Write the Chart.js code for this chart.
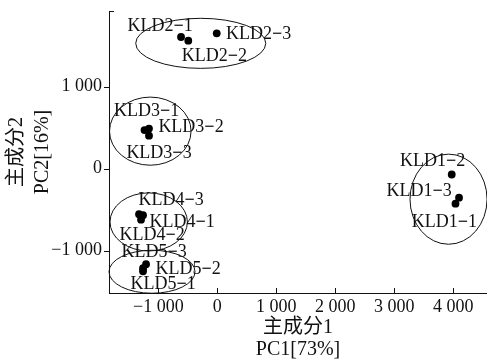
<!DOCTYPE html>
<html>
<head>
<meta charset="utf-8">
<script src="https://cdn.jsdelivr.net/npm/chart.js@4.4.1/dist/chart.umd.min.js"></script>
<style>
  html, body { margin: 0; padding: 0; background: #fff; }
  #pca { display: block; }
</style>
</head>
<body>
<canvas id="pca" width="487" height="363"></canvas>
<script>
'use strict';

// sample scores on the first two components
var sampleNames = ['KLD1−1', 'KLD1−2', 'KLD1−3',
                   'KLD2−1', 'KLD2−2', 'KLD2−3',
                   'KLD3−1', 'KLD3−2', 'KLD3−3',
                   'KLD4−1', 'KLD4−2', 'KLD4−3',
                   'KLD5−1', 'KLD5−2', 'KLD5−3'];
var pc1 = [4037, 3973, 4097,
           -615, -492, -10,
           -1234, -1158, -1158,
           -1259, -1293, -1327,
           -1259, -1259, -1208];
var pc2 = [-427, -71, -354,
           1604, 1559, 1649,
           470, 488, 402,
           -567, -622, -555,
           -1250, -1213, -1165];

// group ellipses (centre and half axes, in score units)
var groupNames = ['KLD1', 'KLD2', 'KLD3', 'KLD4', 'KLD5'];
var groupCx = [3919, -281, -1136, -1163, -1107];
var groupCy = [-372, 1527, 457, -649, -1256];
var groupRx = [653, 1102, 691, 656, 729];
var groupRy = [549, 305, 415, 354, 262];

var xTickValues = [-1000, 0, 1000, 2000, 3000, 4000];
var yTickValues = [-1000, 0, 1000];

// where each name sits relative to its dot (px)
var labelShift = [[-11, 19], [-19, -13], [-40, -6],
                  [-21, -11], [26, 16], [42, 1],
                  [2, -19], [42, -1], [10, 18],
                  [39, 7], [11, 16], [32, -14],
                  [20, 13], [45, 1], [8, -12]];

var SERIF = "'Liberation Serif', 'Noto Sans CJK SC', serif";

function fmtTick(v){
  var a = Math.abs(v);
  var s = a >= 1000 ? Math.floor(a / 1000) + ' ' + String(a % 1000).padStart(3, '0') : String(a);
  return (v < 0 ? '−' : '') + s;
}

// no extra room for edge labels, the plot box is fixed
function noEdgePadding(scale){
  scale.paddingTop = 0;
  scale.paddingBottom = 0;
  scale.paddingLeft = 0;
  scale.paddingRight = 0;
}

// sample name with a heavier dash, centred on (x, y)
function drawName(ctx, name, x, y){
  var parts = name.split('−');
  var plain = '18px ' + SERIF, heavy = 'bold 18px ' + SERIF;
  ctx.font = plain;
  var w0 = ctx.measureText(parts[0]).width;
  var w2 = ctx.measureText(parts[1]).width;
  ctx.font = heavy;
  var w1 = ctx.measureText('−').width;
  var left = x - (w0 + w1 + w2) / 2;
  ctx.textAlign = 'left';
  ctx.font = plain;
  ctx.fillText(parts[0], left, y);
  ctx.fillText(parts[1], left + w0 + w1, y);
  ctx.font = heavy;
  ctx.fillText('−', left + w0, y);
}

var points = [];
for(var i=0; i<pc1.length; i++){
  points.push({x: pc1[i], y: pc2[i]});
}

// ellipses, tick marks and sample names
var pcaDecor = {
  id: 'pcaDecor',
  afterDatasetsDraw: function(chart){
    var ctx = chart.ctx;
    var xs = chart.scales.x, ys = chart.scales.y;
    var area = chart.chartArea;
    ctx.save();

    ctx.strokeStyle = '#111';
    ctx.lineWidth = 1;
    for(var g=0; g<groupNames.length; g++){
      var cx = xs.getPixelForValue(groupCx[g]);
      var cy = ys.getPixelForValue(groupCy[g]);
      var rx = Math.abs(xs.getPixelForValue(groupCx[g] + groupRx[g]) - cx);
      var ry = Math.abs(ys.getPixelForValue(groupCy[g] + groupRy[g]) - cy);
      ctx.beginPath();
      ctx.ellipse(cx, cy, rx, ry, 0, 0, Math.PI * 2);
      ctx.stroke();
    }

    // y ticks point outwards, x ticks point inwards
    ctx.beginPath();
    yTickValues.forEach(function(v){
      var py = Math.round(ys.getPixelForValue(v)) + 0.5;
      ctx.moveTo(area.left - 5, py);
      ctx.lineTo(area.left, py);
    });
    xTickValues.forEach(function(v){
      var px = Math.round(xs.getPixelForValue(v)) + 0.5;
      ctx.moveTo(px, area.bottom);
      ctx.lineTo(px, area.bottom - 5);
    });
    ctx.moveTo(area.left, area.top + 0.5);
    ctx.lineTo(area.left + 5, area.top + 0.5);
    ctx.stroke();

    ctx.fillStyle = '#111';
    ctx.textBaseline = 'middle';
    for(var k=0; k<sampleNames.length; k++){
      var px2 = xs.getPixelForValue(pc1[k]) + labelShift[k][0];
      var py2 = ys.getPixelForValue(pc2[k]) + labelShift[k][1];
      drawName(ctx, sampleNames[k], px2, py2);
    }
    ctx.restore();
  }
};

new Chart(document.getElementById('pca'), {
  type: 'scatter',
  data: {
    datasets: [{
      data: points,
      backgroundColor: '#000',
      borderWidth: 0,
      pointRadius: 3.9,
      pointHoverRadius: 3.9
    }]
  },
  options: {
    responsive: false,
    animation: false,
    devicePixelRatio: 1,
    layout: {autoPadding: false, padding: {top: 11, right: 0, bottom: 0, left: 0}},
    plugins: {legend: {display: false}, tooltip: {enabled: false}},
    scales: {
      x: {
        type: 'linear',
        min: -1836,
        max: 4571,
        afterBuildTicks: function(scale){
          scale.ticks = xTickValues.map(function(v){ return {value: v}; });
        },
        afterFit: function(scale){
          scale.height = 70;
          noEdgePadding(scale);
        },
        grid: {display: false, drawTicks: false},
        border: {display: true, color: '#111', width: 1},
        ticks: {
          autoSkip: false,
          maxRotation: 0,
          padding: 3,
          color: '#111',
          font: {family: SERIF, size: 18},
          callback: function(v){ return fmtTick(v); }
        },
        title: {
          display: true,
          text: ['主成分1', 'PC1[73%]'],
          color: '#111',
          font: {family: SERIF, size: 20, lineHeight: 1.1},
          padding: {top: 0, bottom: 2}
        }
      },
      y: {
        type: 'linear',
        min: -1515,
        max: 1921,
        afterBuildTicks: function(scale){
          scale.ticks = yTickValues.map(function(v){ return {value: v}; });
        },
        afterFit: function(scale){
          scale.width = 109;
          noEdgePadding(scale);
        },
        grid: {display: false, drawTicks: false},
        border: {display: true, color: '#111', width: 1},
        ticks: {
          padding: 7,
          color: '#111',
          font: {family: SERIF, size: 18},
          callback: function(v){ return fmtTick(v); }
        },
        title: {
          display: true,
          text: ['主成分2', 'PC2[16%]'],
          color: '#111',
          font: {family: SERIF, size: 20, lineHeight: 1.3},
          padding: {top: 4, bottom: 0}
        }
      }
    }
  },
  plugins: [pcaDecor]
});
</script>
</body>
</html>
